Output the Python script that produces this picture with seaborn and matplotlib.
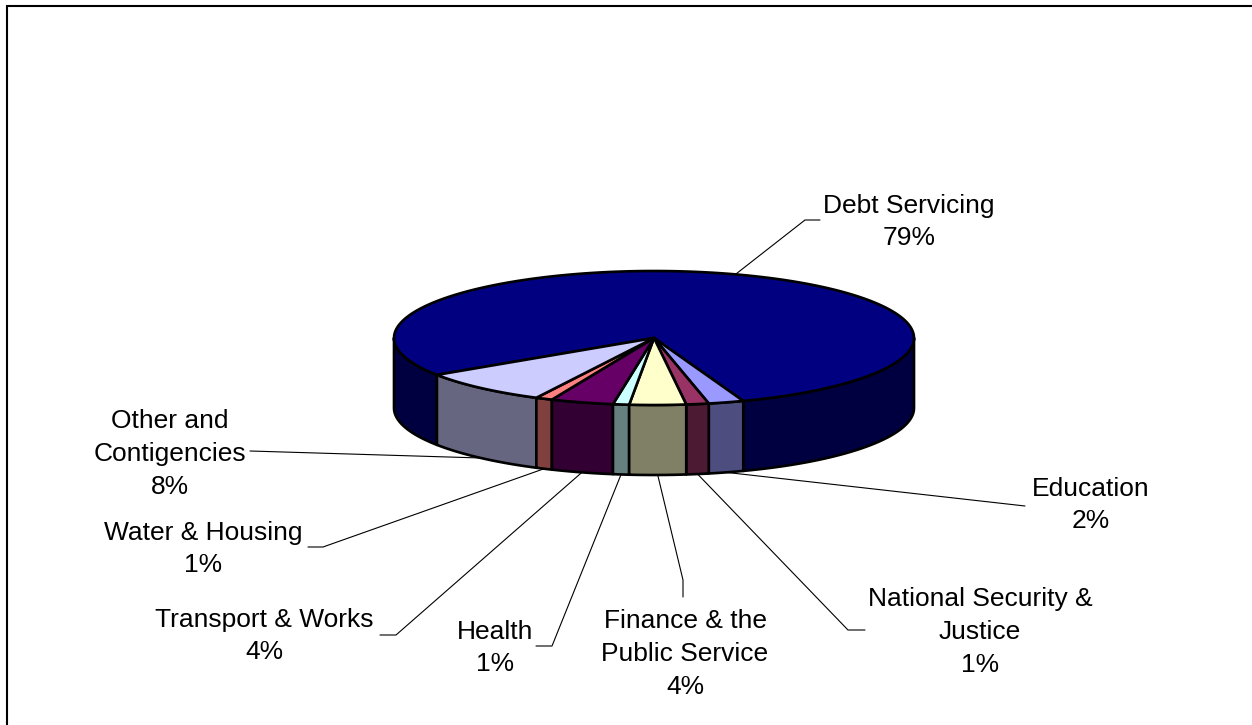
import numpy as np
import matplotlib
matplotlib.use("Agg")
import matplotlib.pyplot as plt
import seaborn as sns

# Budget shares in percent, clockwise from the back of the pie
categories = ["Debt Servicing", "Education", "National Security &\nJustice",
              "Finance & the\nPublic Service", "Health", "Transport & Works",
              "Water & Housing", "Other and\nContigencies"]
shares = [78.7, 2.2, 1.4, 3.5, 1.0, 3.9, 1.05, 8.25]
top_colors = ["#000080", "#9999FF", "#993366", "#FFFFCC",
              "#CCFFFF", "#660066", "#FF8080", "#CCCCFF"]

# Pie geometry in figure pixels
CX, CY, RX, RY, DEPTH = 654, 338, 260, 67, 70
FIRST_ANGLE = 146.6  # where the first slice starts, degrees clockwise from +x

# Label centre and the elbow(s) of each leader line
label_pos = [(909, 222), (1091, 505), (980, 632), (685, 654),
             (495, 648), (264, 636), (203, 549), (170, 454)]
elbows = [[(805, 220), (820, 220)],
          [(1025, 506)],
          [(848, 630), (865, 630)],
          [(683, 580), (683, 597)],
          [(552, 646), (536, 646)],
          [(396, 635), (380, 635)],
          [(323, 547), (308, 547)],
          [(250, 451)]]

sns.set_theme(style="white")
plt.rcParams["font.family"] = ["Liberation Sans", "DejaVu Sans"]
palette = sns.color_palette(top_colors)

fig = plt.figure(figsize=(12.52, 7.25), dpi=100, facecolor="white")
ax = fig.add_axes([0, 0, 1, 1])
ax.set_xlim(0, 1252)
ax.set_ylim(725, 0)
ax.axis("off")


def rim(theta, drop=0.0):
    t = np.radians(theta)
    return CX + RX * np.cos(t), CY + RY * np.sin(t) + drop


edges = FIRST_ANGLE + np.concatenate([[0], np.cumsum(shares)]) * 3.6
EDGE = dict(edgecolor="black", linewidth=1.9, joinstyle="round")

# Side walls first, only the part of each slice facing the viewer
order = sorted(range(len(shares)), key=lambda i: -abs(((edges[i] + edges[i + 1]) / 2 % 360) - 90))
for i in order:
    a0, a1 = edges[i], edges[i + 1]
    for k in (-1, 0, 1):
        lo, hi = max(a0 + 360 * k, 0), min(a1 + 360 * k, 180)
        if hi <= lo:
            continue
        th = np.linspace(lo, hi, 120)
        xs, ys = rim(th)
        _, yb = rim(th, DEPTH)
        shade = tuple(c * 0.5 for c in palette[i])
        ax.fill(np.r_[xs, xs[::-1]], np.r_[ys, yb[::-1]], facecolor=shade, **EDGE)

# Top faces
for i, color in enumerate(palette):
    th = np.linspace(edges[i], edges[i + 1], 400)
    xs, ys = rim(th)
    ax.fill(np.r_[CX, xs], np.r_[CY, ys], facecolor=color, **EDGE)

# Leader lines and labels
for i, name in enumerate(categories):
    mid = (edges[i] + edges[i + 1]) / 2
    start = rim(mid, DEPTH if 0 < mid % 360 < 180 else 0)
    pts = [start] + elbows[i]
    ax.plot(*zip(*pts), color="black", linewidth=0.8, solid_joinstyle="miter", zorder=1)
    ax.text(*label_pos[i], f"{name}\n{shares[i]:.0f}%", ha="center", va="center",
            fontsize=19, color="black", linespacing=1.45, zorder=3)

# Chart frame, open at the right and bottom of the canvas
ax.plot([7, 7, 1252], [725, 6, 6], color="black", linewidth=1.5, solid_joinstyle="miter")

fig.savefig("out.png", dpi=100, facecolor="white")
